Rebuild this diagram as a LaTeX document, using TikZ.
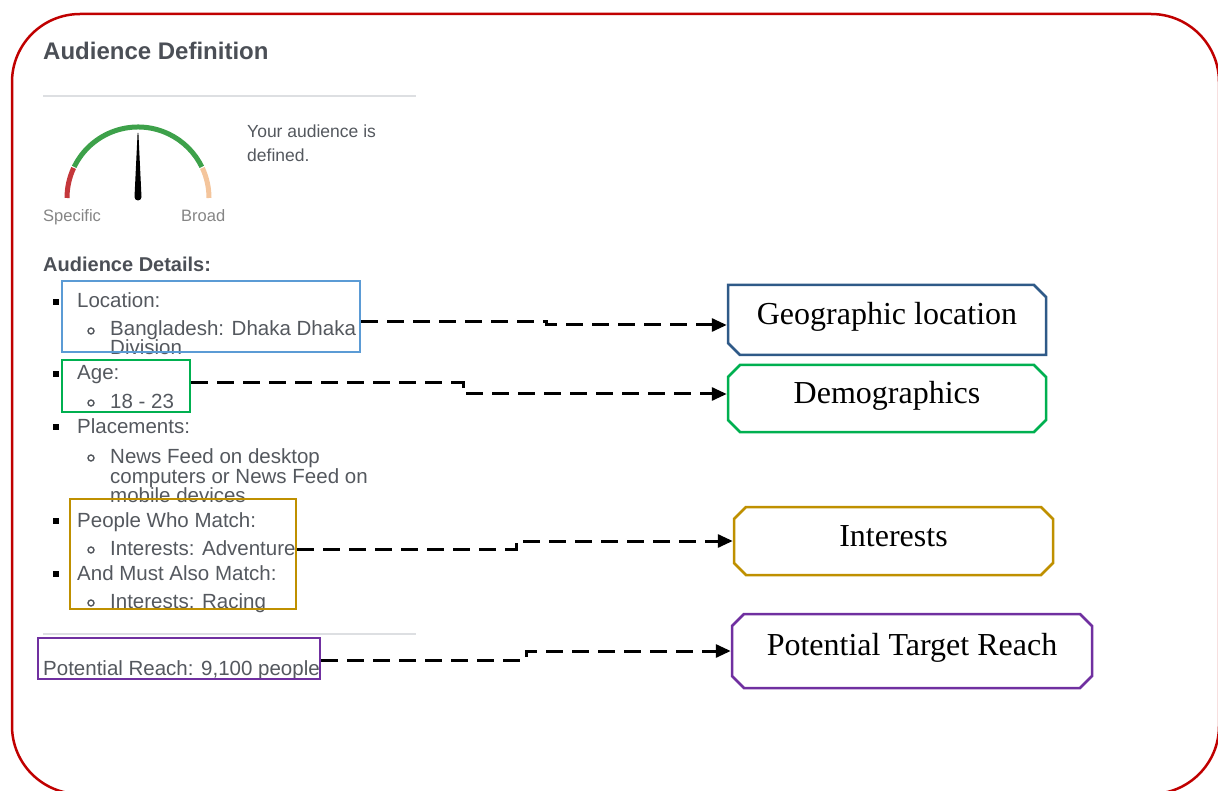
\documentclass[tikz,border=0pt]{standalone}
\usepackage{fontspec}
\setmainfont{Liberation Serif}
\newfontfamily\uifont{Liberation Sans}
\usetikzlibrary{arrows.meta,shapes.misc}

\definecolor{framered}{HTML}{C00000}
\definecolor{headgray}{HTML}{4B4F56}
\definecolor{bodygray}{HTML}{54585E}
\definecolor{lightgray}{HTML}{858585}
\definecolor{rulegray}{HTML}{DDDFE2}
\definecolor{hlblue}{HTML}{5B9BD5}
\definecolor{hlgreen}{HTML}{00B050}
\definecolor{hlgold}{HTML}{BF9000}
\definecolor{hlpurple}{HTML}{7030A0}
\definecolor{geoblue}{HTML}{2F5A88}
\definecolor{gaugered}{HTML}{C4373B}
\definecolor{gaugegreen}{HTML}{3DA14A}
\definecolor{gaugepeach}{HTML}{F4C59C}

\begin{document}
\begin{tikzpicture}[x=1pt,y=-1pt,
  ui/.style={font=\uifont\fontsize{20.5}{20}\selectfont, text=bodygray, anchor=base west, inner sep=0pt},
  uismall/.style={font=\uifont\fontsize{17.5}{24}\selectfont, text=bodygray, anchor=base west, inner sep=0pt},
  uitiny/.style={font=\uifont\fontsize{16.5}{20}\selectfont, text=lightgray, anchor=base west, inner sep=0pt},
  hlbox/.style={draw, line width=2pt, rectangle, inner sep=0pt},
  tag/.style={chamfered rectangle, chamfered rectangle xsep=6pt, chamfered rectangle ysep=6pt,
    draw, line width=2.5pt, inner sep=0pt, font=\fontsize{32}{38}\selectfont,
    text height=25pt, text depth=15pt},
  conn/.style={draw=black, line width=3pt, dash pattern=on 17pt off 9pt,
    -{Triangle[length=15pt,width=13pt]}},
  sqbullet/.style={fill=black, minimum size=5.5pt, inner sep=0pt, rectangle},
  cbullet/.style={draw=bodygray, line width=1.4pt, circle, minimum size=6pt, inner sep=0pt}
]
\useasboundingbox (0,0) rectangle (1218,791);

% outer frame
\draw[framered, line width=2.5pt, rounded corners=68pt] (12,14) rectangle (1219,794);

% header
\node[anchor=base west, inner sep=0pt, text=headgray, font=\uifont\bfseries\fontsize{24}{26}\selectfont] (title) at (43,60) {Audience Definition};
\draw[rulegray, line width=1.5pt] (43,96) -- (416,96);

% gauge
\draw[gaugered, line width=5pt] (138,198) ++(180:71) arc[start angle=180, end angle=205, radius=71];
\draw[gaugegreen, line width=5pt] (138,198) ++(206:71) arc[start angle=206, end angle=334, radius=71];
\draw[gaugepeach, line width=5pt] (138,198) ++(335:71) arc[start angle=335, end angle=360, radius=71];
\fill[black] (134.5,197) -- (137.6,133) -- (138.4,133) -- (141.5,197) arc[start angle=0, end angle=180, radius=3.5] -- cycle;
\node[uitiny] (spec) at (43,222) {Specific};
\node[uitiny] (broad) at (181,222) {Broad};
\node[uismall] (yours) at (247,138) {Your audience is};
\node[uismall] (defd) at (247,162) {defined.};

% audience details list
\node[anchor=base west, inner sep=0pt, text=headgray, font=\uifont\bfseries\fontsize{20}{24}\selectfont] (details) at (43,272) {Audience Details:};

\node[sqbullet] (b1) at (56,302) {};
\node[ui] (loc) at (77,308) {Location:};
\node[cbullet] (c1) at (91,331) {};
\node[ui] (bd1) at (110,336) {Bangladesh: Dhaka Dhaka};
\node[ui] (bd2) at (110,355) {Division};

\node[sqbullet] (b2) at (56,374) {};
\node[ui] (age) at (77,380) {Age:};
\node[cbullet] (c2) at (91,403) {};
\node[ui] (agev) at (110,408) {18 - 23};

\node[sqbullet] (b3) at (56,427) {};
\node[ui] (plc) at (77,433) {Placements:};
\node[cbullet] (c3) at (91,458) {};
\node[ui] (nf1) at (110,463) {News Feed on desktop};
\node[ui] (nf2) at (110,483) {computers or News Feed on};
\node[ui] (nf3) at (110,502) {mobile devices};

\node[sqbullet] (b4) at (56,521) {};
\node[ui] (pwm) at (77,527) {People Who Match:};
\node[cbullet] (c4) at (91,550) {};
\node[ui] (adv) at (110,555) {Interests: Adventure};

\node[sqbullet] (b5) at (56,574) {};
\node[ui] (amam) at (77,580) {And Must Also Match:};
\node[cbullet] (c5) at (91,603) {};
\node[ui] (rac) at (110,608) {Interests: Racing};

\draw[rulegray, line width=1.5pt] (43,634) -- (416,634);
\node[ui] (reach) at (43,675) {Potential Reach: 9,100 people};

% highlight frames round the list entries
\node[hlbox, draw=hlblue, minimum width=298pt, minimum height=71pt] (locbox) at (211,316.5) {};
\node[hlbox, draw=hlgreen, minimum width=128pt, minimum height=52pt] (agebox) at (126,386) {};
\node[hlbox, draw=hlgold, minimum width=226pt, minimum height=110pt] (intbox) at (183,554) {};
\node[hlbox, draw=hlpurple, minimum width=282pt, minimum height=41pt] (reachbox) at (179,658.5) {};

% category tags
\node[tag, draw=geoblue, minimum width=318pt, minimum height=70pt,
  chamfered rectangle corners={north east, south west}] (geo) at (887,320) {Geographic location};
\node[tag, draw=hlgreen, minimum width=318pt, minimum height=67pt] (demo) at (887,398.5) {Demographics};
\node[tag, draw=hlgold, minimum width=319pt, minimum height=68pt] (inter) at (893.5,541) {Interests};
\node[tag, draw=hlpurple, minimum width=360pt, minimum height=74pt,
  text height=27pt, text depth=19pt] (ptr) at (912,651) {Potential Target Reach};

% connectors
\draw[conn] ([yshift=-5.5pt]locbox.east) -- ++(185,0) |- ([yshift=-5pt]geo.west);
\draw[conn] ([yshift=3pt]agebox.east) -- ++(272,0) |- ([yshift=4.5pt]demo.west);
\draw[conn] ([yshift=5pt]intbox.east) -- ++(219,0) |- (inter.west);
\draw[conn] ([yshift=-1.5pt]reachbox.east) -- ++(205,0) |- (ptr.west);
\end{tikzpicture}
\end{document}
